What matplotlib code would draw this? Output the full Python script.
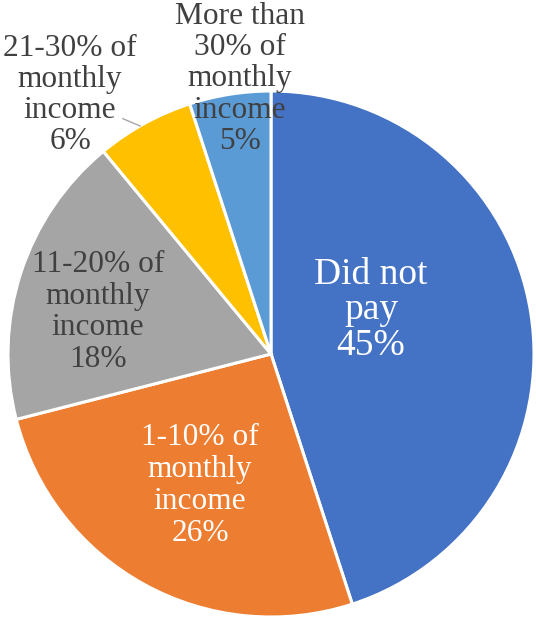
import matplotlib
matplotlib.use("Agg")
import matplotlib.pyplot as plt

categories = ["Did not pay", "1-10% of monthly income", "11-20% of monthly income",
              "21-30% of monthly income", "More than 30% of monthly income"]
values = [45, 26, 18, 6, 5]
label_texts = ["Did not\npay\n45%", "1-10% of\nmonthly\nincome\n26%",
               "11-20% of\nmonthly\nincome\n18%", "21-30% of\nmonthly\nincome\n6%",
               "More than\n30% of\nmonthly\nincome\n5%"]
colors = ["#4472C4", "#ED7D31", "#A5A5A5", "#FFC000", "#5B9BD5"]
label_colors = ["white", "white", "#404040", "#404040", "#404040"]
label_sizes = [27, 22.6, 22.6, 22.6, 22.6]
label_spacing = [1.05, 1.15, 1.12, 1.1, 1.1]
label_pos = [(0.380, 0.167), (-0.270, -0.500), (-0.658, 0.160), (-0.764, 0.985), (-0.118, 1.046)]

plt.rcParams['font.family'] = ['Liberation Serif', 'DejaVu Serif']

fig = plt.figure(figsize=(5.36, 6.17), dpi=100)
ax = fig.add_axes([8/536, 0/617, 526/536, 526/617])
ax.pie(values, colors=colors, startangle=90, counterclock=False, radius=1.0,
       wedgeprops=dict(edgecolor="white", linewidth=2.2))
ax.set_xlim(-1, 1)
ax.set_ylim(-1, 1)
ax.set_aspect("equal")
ax.axis("off")

for txt, (x, y), c, s, ls in zip(label_texts, label_pos, label_colors, label_sizes, label_spacing):
    ax.text(x, y, txt, ha="center", va="center", color=c, fontsize=s,
            linespacing=ls, clip_on=False, zorder=5)

# leader line for the 21-30% label
ax.plot([-0.563, -0.559, -0.498], [0.895, 0.893, 0.867], color="#A6A6A6", lw=1.0,
        clip_on=False, zorder=4)

fig.savefig("out.png", dpi=100)
